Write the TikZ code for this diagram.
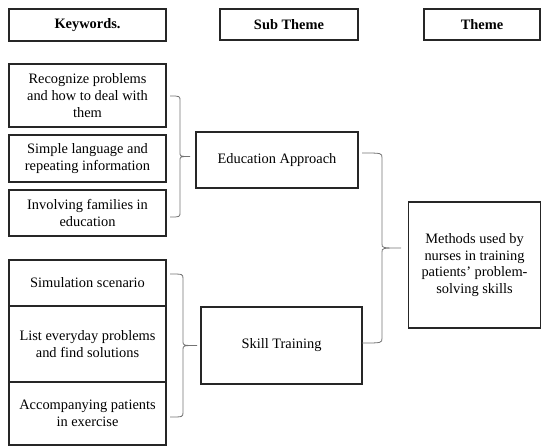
\documentclass[tikz,border=0pt]{standalone}
\usepackage{fontspec}
\setmainfont{Liberation Serif}
\usetikzlibrary{calc}
\tikzset{
	plainbox/.style={draw=black!85, line width=0.8pt, align=center, inner sep=1pt,
		font=\fontsize{10.8}{12.5}\selectfont},
	headbox/.style={plainbox, font=\fontsize{10.8}{12.5}\selectfont\bfseries},
	bracepath/.style={draw=black!55, line width=0.6pt}
}
% top, bottom, depth of the stem, depth of the tip
\def\sidebrace(#1)(#2)(#3:#4){\draw[bracepath] (#1) .. controls ($(#1)+(#3,0)$) .. ($(#1)+(#3,5)$)
	-- ($(#1)!0.5!(#2)+(#3,-4)$) .. controls ($(#1)!0.5!(#2)+(#3,0)$) .. ($(#1)!0.5!(#2)+(#4,0)$)
	.. controls ($(#1)!0.5!(#2)+(#3,0)$) .. ($(#1)!0.5!(#2)+(#3,4)$)
	-- ($(#2)+(#3,-5)$) .. controls ($(#2)+(#3,0)$) .. (#2);}

\begin{document}
\begin{tikzpicture}[x=0.75pt, y=-0.75pt]
		%%%%% START %%%%%
		\useasboundingbox (0, 0) rectangle (541, 446);
		
		% headers
		\node[headbox, minimum width=117.75pt, minimum height=24pt] (kwhead) at (87.5, 25) {Keywords.};
		\node[headbox, minimum width=103.5pt, minimum height=23.25pt] (subhead) at (289, 24.5) {Sub Theme};
		\node[headbox, minimum width=87pt, minimum height=23.25pt] (themehead) at (482, 24.5) {Theme};
		
		% keywords
		\node[plainbox, minimum width=117.75pt, minimum height=47.25pt] (kwa) at (87.5, 95.5) {Recognize problems\\and how to deal with\\them};
		\node[plainbox, minimum width=117.75pt, minimum height=35.25pt] (kwb) at (87.5, 158.5) {Simple language and\\repeating information};
		\node[plainbox, minimum width=117.75pt, minimum height=34.5pt] (kwc) at (87.5, 213) {Involving families in\\education};
		
		\node[plainbox, minimum width=117.75pt, minimum height=34.5pt] (kwd) at (87.5, 283) {Simulation scenario};
		\node[plainbox, minimum width=117.75pt, minimum height=57pt] (kwe) at (87.5, 344) {List everyday problems\\and find solutions};
		\node[plainbox, minimum width=117.75pt, minimum height=47.25pt] (kwf) at (87.5, 413.5) {Accompanying patients\\in exercise};
		
		% sub themes
		\node[plainbox, minimum width=121.5pt, minimum height=42pt] (edu) at (277, 160) {Education Approach};
		\node[plainbox, minimum width=120.75pt, minimum height=57.75pt] (skill) at (281.5, 345.5) {Skill Training};
		
		% theme
		\node[plainbox, minimum width=99pt, minimum height=94.5pt] (theme) at (474.5, 265) {Methods used by\\nurses in training\\patients' problem-\\solving skills};
		
		% braces
		\coordinate (eduTop) at (170, 96);
		\coordinate (eduBot) at (170, 217);
		\coordinate (skillTop) at (170, 274);
		\coordinate (skillBot) at (170, 417);
		\coordinate (themeTop) at (362, 153);
		\coordinate (themeBot) at (362, 343);
		
		\sidebrace(eduTop)(eduBot)(10:20)
		\sidebrace(skillTop)(skillBot)(13:27)
		\sidebrace(themeTop)(themeBot)(20:39)
		
		%%%%% END %%%%%
	\end{tikzpicture}
\end{document}
